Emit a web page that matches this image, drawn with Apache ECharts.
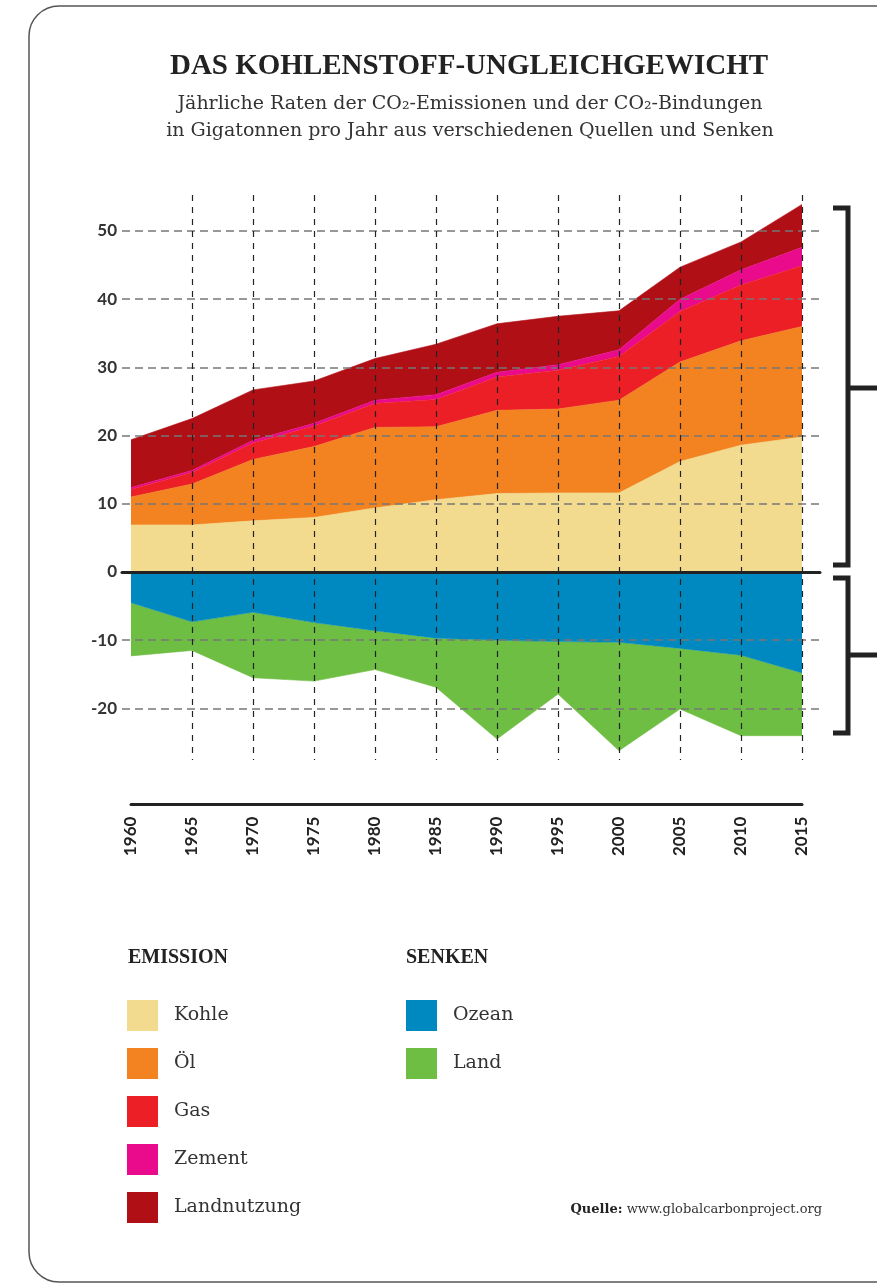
<!DOCTYPE html>
<html>
<head>
<meta charset="utf-8">
<script src="https://cdn.jsdelivr.net/npm/echarts@6/dist/echarts.min.js"></script>
<style>
  html, body { margin: 0; padding: 0; background: #fff; }
  #chart { width: 877px; height: 1284px; }
</style>
</head>
<body>
<div id="chart"></div>
<script>
  'use strict'

  /*-----data-----*/
  var years = ['1960', '1965', '1970', '1975', '1980', '1985', '1990', '1995', '2000', '2005', '2010', '2015'];
  var kohle = [6.9, 6.9, 7.5, 8.0, 9.4, 10.6, 11.5, 11.6, 11.6, 16.2, 18.6, 19.8];
  var oel = [4.1, 6.0, 9.0, 10.4, 11.8, 10.7, 12.2, 12.3, 13.6, 14.6, 15.3, 16.2];
  var gas = [1.1, 1.7, 2.4, 3.0, 3.5, 4.0, 4.9, 5.7, 6.4, 7.4, 8.2, 8.9];
  var zement = [0.3, 0.3, 0.4, 0.4, 0.5, 0.7, 0.7, 0.8, 1.0, 1.8, 2.2, 2.7];
  var landnutzung = [7.0, 7.6, 7.4, 6.2, 6.1, 7.4, 7.1, 7.1, 5.7, 4.7, 4.1, 6.3];
  var ozean = [-4.5, -7.3, -5.9, -7.4, -8.6, -9.7, -10.0, -10.2, -10.3, -11.2, -12.2, -14.8];
  var land = [-7.8, -4.2, -9.6, -8.6, -5.7, -7.2, -14.5, -7.7, -15.9, -8.9, -11.8, -9.2];

  var emissionNames = ['Kohle', 'Öl', 'Gas', 'Zement', 'Landnutzung'];
  var senkenNames = ['Ozean', 'Land'];

  var serif = '"Liberation Serif", serif';
  var textSerif = '"DejaVu Serif", serif';
  var sans = 'Lato, sans-serif';

  function area(name, data, color, stack) {
    return {
      name: name,
      type: 'line',
      stack: stack,
      xAxisIndex: 0,
      yAxisIndex: 0,
      data: data,
      symbol: 'none',
      color: color,
      itemStyle: { color: color },
      lineStyle: { width: 0.6, color: color },
      areaStyle: { color: color, opacity: 1 },
      z: 2
    };
  }

  var series = [
    area('Kohle', kohle, '#f2db8f', 'emission'),
    area('Öl', oel, '#f38221', 'emission'),
    area('Gas', gas, '#ec1f26', 'emission'),
    area('Zement', zement, '#ea0a8c', 'emission'),
    area('Landnutzung', landnutzung, '#b00f16', 'emission'),
    area('Ozean', ozean, '#0089c0', 'senken'),
    area('Land', land, '#6fbe44', 'senken')
  ];

  // grid top/bottom chosen so that 50 -> y 231 and 0 -> y 572
  var gTop = 162.8, gBottom = 1284 - 776.6;

  function legendBox(names, left) {
    return {
      data: names,
      left: left,
      top: 1000,
      padding: 0,
      orient: 'vertical',
      icon: 'rect',
      itemWidth: 31,
      itemHeight: 31,
      itemGap: 17,
      selectedMode: false,
      textStyle: { fontFamily: textSerif, fontSize: 19, color: '#333', padding: [0, 0, 0, 11] }
    };
  }

  var option = {
    backgroundColor: '#fff',
    animation: false,
    grid: [
      { left: 131, right: 75, top: gTop, bottom: gBottom, outerBoundsMode: 'none' },
      { left: 122, right: 57, top: gTop, bottom: gBottom, outerBoundsMode: 'none' },
      { left: 131, right: 75, top: 195, bottom: 1284 - 760, outerBoundsMode: 'none' }
    ],
    xAxis: [
      {
        gridIndex: 0,
        type: 'category',
        data: years,
        boundaryGap: false,
        offset: 28,
        axisLine: { onZero: false, lineStyle: { color: '#222', width: 3 } },
        axisTick: { show: false },
        splitLine: { show: false },
        axisLabel: {
          rotate: 90,
          margin: 12,
          fontFamily: sans,
          fontWeight: 'bold',
          fontSize: 17,
          color: '#222'
        }
      },
      {
        gridIndex: 1,
        type: 'value',
        min: 0,
        max: 1,
        z: 10,
        axisLine: { onZero: true, lineStyle: { color: '#222', width: 3 } },
        axisTick: { show: false },
        axisLabel: { show: false },
        splitLine: { show: false }
      },
      {
        gridIndex: 2,
        type: 'category',
        data: years,
        boundaryGap: false,
        z: 10,
        axisLine: { show: false },
        axisTick: { show: false },
        axisLabel: { show: false },
        splitLine: {
          show: true,
          interval: function (i) { return i > 0; },
          lineStyle: { color: '#222', width: 1.2, type: [6, 6] }
        }
      }
    ],
    yAxis: [
      { gridIndex: 0, type: 'value', min: -30, max: 60, interval: 10, show: false },
      {
        gridIndex: 1,
        type: 'value',
        min: -30,
        max: 60,
        interval: 10,
        z: 10,
        axisLine: { show: false },
        axisTick: { show: false },
        axisLabel: {
          showMinLabel: false,
          showMaxLabel: false,
          margin: 5,
          fontFamily: sans,
          fontWeight: 'bold',
          fontSize: 17,
          color: '#333'
        },
        splitLine: {
          show: true,
          showMinLine: false,
          showMaxLine: false,
          lineStyle: { color: '#777', width: 1.5, type: [8, 5] }
        }
      },
      { gridIndex: 2, type: 'value', min: 0, max: 1, show: false }
    ],
    legend: [legendBox(emissionNames, 127), legendBox(senkenNames, 406)],
    graphic: [
      {
        type: 'rect',
        shape: { x: 29, y: 6, width: 900, height: 1276, r: 30 },
        style: { fill: 'none', stroke: '#555', lineWidth: 1.5 },
        z: -1
      },
      {
        type: 'text',
        x: 469, y: 67,
        style: {
          text: 'DAS KOHLENSTOFF-UNGLEICHGEWICHT',
          fontFamily: serif, fontWeight: 'bold', fontSize: 29,
          fill: '#222', align: 'center', verticalAlign: 'middle'
        }
      },
      {
        type: 'text',
        x: 470, y: 104,
        style: {
          text: 'Jährliche Raten der CO₂-Emissionen und der CO₂-Bindungen',
          fontFamily: textSerif, fontSize: 19, fill: '#333', align: 'center', verticalAlign: 'middle'
        }
      },
      {
        type: 'text',
        x: 470, y: 131,
        style: {
          text: 'in Gigatonnen pro Jahr aus verschiedenen Quellen und Senken',
          fontFamily: textSerif, fontSize: 19, fill: '#333', align: 'center', verticalAlign: 'middle'
        }
      },
      {
        type: 'text',
        x: 128, y: 958,
        style: {
          text: 'EMISSION', fontFamily: serif, fontWeight: 'bold', fontSize: 20,
          fill: '#222', verticalAlign: 'middle'
        }
      },
      {
        type: 'text',
        x: 406, y: 958,
        style: {
          text: 'SENKEN', fontFamily: serif, fontWeight: 'bold', fontSize: 20,
          fill: '#222', verticalAlign: 'middle'
        }
      },
      {
        type: 'text',
        x: 822, y: 1210,
        style: {
          text: '{b|Quelle:} www.globalcarbonproject.org',
          rich: { b: { fontWeight: 'bold', fontFamily: textSerif, fontSize: 13, fill: '#222' } },
          fontFamily: textSerif, fontSize: 13, fill: '#333', align: 'right', verticalAlign: 'middle'
        }
      },
      // brackets on the right
      {
        type: 'polyline',
        shape: { points: [[833, 208], [848, 208], [848, 565], [833, 565]] },
        style: { stroke: '#222', lineWidth: 5, fill: 'none' }
      },
      {
        type: 'line',
        shape: { x1: 848, y1: 388, x2: 880, y2: 388 },
        style: { stroke: '#222', lineWidth: 5 }
      },
      {
        type: 'polyline',
        shape: { points: [[833, 578], [848, 578], [848, 733], [833, 733]] },
        style: { stroke: '#222', lineWidth: 5, fill: 'none' }
      },
      {
        type: 'line',
        shape: { x1: 848, y1: 655, x2: 880, y2: 655 },
        style: { stroke: '#222', lineWidth: 5 }
      }
    ],
    series: series
  };

  var chart = echarts.init(document.getElementById('chart'));
  chart.setOption(option);
</script>
</body>
</html>
